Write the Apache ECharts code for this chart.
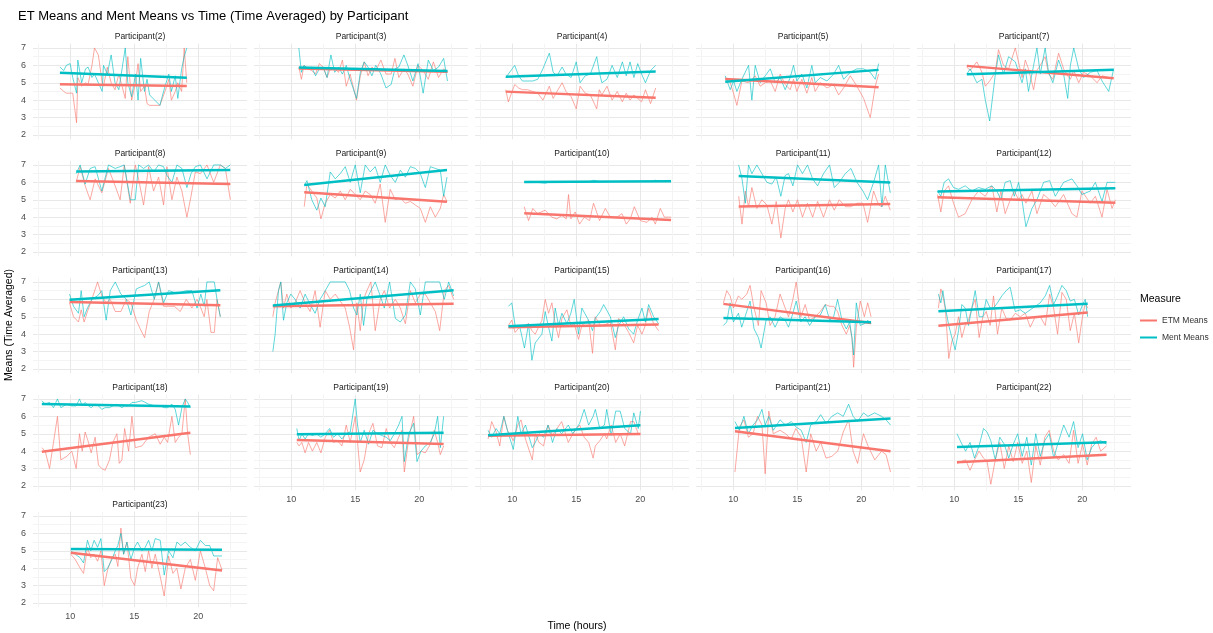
<!DOCTYPE html>
<html><head><meta charset="utf-8">
<script src="https://cdn.jsdelivr.net/npm/echarts@6/dist/echarts.min.js"></script>
<style>html,body{margin:0;padding:0;background:#fff}#chart{width:1213px;height:633px}</style>
</head><body><div id="chart"></div>
<script>
// ---------- DATA ----------
const participants = [2,3,4,5,7,8,9,10,11,12,13,14,15,16,17,18,19,20,21,22,23];
const xTickLabels = [10,15,20];
const yTickLabels = [2,3,4,5,6,7];

const p2Time = [9.2,9.5,9.7,10.0,10.2,10.5,10.6,10.9,11.2,11.4,11.7,11.9,12.2,12.5,12.6,12.9,13.2,13.5,13.8,14.3,14.5,14.8,15.1,15.3,15.5,15.8,16.0,16.2,16.6,17.0,17.4,17.7,17.9,18.2,18.4,18.7,18.9,19.1];
const p2Etm  = [4.7,4.5,4.4,4.4,4.4,2.7,5.3,4.8,5.0,4.9,6.0,7.0,6.6,5.0,4.8,5.9,5.0,4.6,5.5,4.1,6.5,4.0,5.0,6.1,4.5,4.8,3.8,3.7,3.7,3.7,4.5,5.2,4.0,4.5,5.0,4.5,7.0,5.0];
const p2Ment = [5.9,5.7,6.0,6.1,5.3,4.4,6.3,5.0,5.8,5.9,5.3,5.5,5.0,4.5,6.0,5.5,6.6,5.0,4.6,7.0,5.0,4.2,5.5,4.0,6.4,4.5,5.2,4.3,4.0,3.7,4.8,5.5,4.5,5.4,4.1,5.8,6.5,7.0];

const p3Time = [10.6,10.8,11.0,11.3,11.6,11.9,12.2,12.5,12.8,13.1,13.4,13.7,14.0,14.3,14.6,15.1,15.4,15.7,16.0,16.3,16.6,17.0,17.4,17.8,18.1,18.4,18.8,19.1,19.5,19.9,20.3,20.7,21.1,21.5,21.9,22.2];
const p3Etm  = [5.9,5.2,6.0,5.8,5.7,5.5,6.1,5.9,5.3,5.9,5.8,5.6,6.3,4.8,5.5,4.0,5.4,6.2,5.4,5.9,5.7,6.3,5.5,5.5,6.4,5.3,5.8,5.5,4.8,6.0,5.7,5.2,6.2,5.3,5.8,5.6];
const p3Ment = [7.0,5.6,6.0,5.8,5.9,5.4,5.8,5.9,5.3,6.6,5.6,5.9,5.5,6.0,5.2,4.1,5.6,6.2,5.9,5.4,6.0,5.5,4.7,4.9,5.8,5.9,6.6,6.0,5.1,6.1,4.4,6.3,5.7,5.9,6.4,5.1];

const p4Time = [9.5,9.7,10.0,10.2,10.5,10.8,11.2,11.6,12.0,12.4,12.9,13.2,13.5,13.9,14.2,14.6,15.0,15.3,15.7,16.1,16.6,16.8,17.0,17.4,17.8,18.2,18.6,18.9,19.2,19.5,19.8,20.1,20.4,20.8,21.2];
const p4Etm  = [4.6,3.9,4.5,4.9,4.7,4.6,4.6,4.5,4.4,4.0,4.8,4.1,4.5,5.0,4.5,4.2,3.5,4.8,4.4,4.3,3.5,4.6,4.3,4.8,4.0,4.5,3.9,4.4,4.0,4.3,4.1,3.9,4.6,3.8,4.7];
const p4Ment = [5.3,5.5,5.8,6.0,5.4,5.1,5.1,5.1,5.2,5.8,6.7,5.6,5.4,5.9,5.5,5.3,6.2,5.0,5.4,5.5,6.5,5.6,5.0,5.2,6.0,5.3,6.2,5.4,6.2,5.3,6.1,5.5,5.0,5.7,6.0];

const p5Time = [9.38,9.77,10.03,10.29,10.68,11.2,11.46,11.72,12.11,12.5,12.9,13.28,13.67,14.06,14.45,14.71,14.97,15.36,15.75,16.14,16.4,16.8,17.32,17.84,18.23,18.62,19.14,19.66,20.18,20.7,21.09,21.35];
const p5Etm  = [5.3,5.0,4.4,3.7,5.1,5.0,5.2,5.4,4.8,5.0,5.1,4.5,5.5,4.9,4.6,5.2,4.5,5.2,4.4,5.3,4.5,5.0,4.7,4.9,4.3,4.7,5.4,4.8,4.1,3.0,4.8,5.5];
const p5Ment = [5.4,4.6,5.1,4.5,5.2,6.0,4.0,6.0,5.0,5.4,5.8,5.0,5.3,4.6,5.3,6.0,5.1,5.5,4.7,6.0,5.0,5.3,5.1,5.5,6.0,5.2,5.6,5.8,5.8,5.6,5.2,6.1];

const p7Time = [10.99,11.25,11.77,12.17,12.43,12.77,13.2,13.46,13.85,14.25,14.77,15.3,15.55,15.8,16.2,16.46,16.72,17.1,17.37,17.7,18.15,18.54,18.86,19.07,19.33,19.72,20.1,20.63,21.15,21.54,22.06,22.45];
const p7Etm  = [5.9,5.7,6.2,5.6,4.8,5.1,5.6,6.9,6.0,5.8,7.0,5.3,6.3,5.8,4.6,5.7,6.0,6.5,5.5,5.2,6.7,5.8,5.4,5.2,5.7,5.0,5.6,5.4,5.0,5.4,5.3,5.3];
const p7Ment = [5.5,5.8,5.0,5.2,4.0,2.8,5.4,6.6,5.5,6.5,6.2,5.0,5.8,4.5,6.0,7.0,5.5,7.0,5.6,5.0,6.3,5.5,4.1,6.0,7.0,5.8,5.3,5.6,5.7,5.1,4.5,5.8];

const p8Time = [10.47,10.78,11.17,11.56,11.95,12.47,12.99,13.51,13.9,14.22,14.69,15.08,15.34,15.73,16.12,16.51,16.9,17.29,17.55,17.94,18.33,18.72,19.11,19.43,19.77,20.16,20.68,21.2,21.72,22.11,22.5];
const p8Etm  = [6.0,6.9,5.8,5.0,6.2,5.4,6.8,5.8,5.0,7.0,4.8,7.0,6.2,4.7,6.9,5.5,6.3,4.7,6.9,5.0,6.3,5.5,4.0,5.2,6.6,6.5,7.0,6.0,7.0,6.8,5.0];
const p8Ment = [6.5,7.0,5.9,6.8,6.9,5.5,7.0,6.8,6.9,7.0,5.0,5.0,7.0,6.8,7.0,6.6,7.0,6.9,6.4,6.0,7.0,6.8,5.7,6.5,6.9,7.0,6.2,7.0,7.0,6.8,7.0];

const p9Time = [11.02,11.23,11.61,12.0,12.32,12.66,13.05,13.44,13.83,14.22,14.61,15.0,15.39,15.78,16.17,16.56,16.95,17.34,17.73,18.13,18.52,18.91,19.3,19.69,20.08,20.47,20.86,21.25,21.64,21.9,22.16];
const p9Etm  = [4.6,5.9,5.5,5.1,3.9,4.8,5.3,5.1,5.5,5.0,5.6,5.3,5.0,5.5,5.3,4.8,5.9,3.7,5.6,5.0,5.1,4.8,4.9,4.7,4.5,3.7,4.6,4.0,4.5,5.3,4.9];
const p9Ment = [5.8,6.1,5.0,4.4,5.1,4.6,6.6,6.2,6.5,6.9,6.0,7.0,5.4,7.0,6.6,6.9,6.0,7.0,6.4,6.0,6.7,6.3,6.9,6.8,6.5,5.7,6.9,6.8,6.7,5.2,6.3];

const p10Time = [10.94,11.28,11.61,11.98,12.57,13.09,13.49,13.88,14.22,14.4,14.58,14.92,15.26,15.63,16.04,16.35,16.82,17.27,17.66,18.18,18.57,18.91,19.22,19.53,20.0,20.52,20.91,21.17,21.56,21.88,22.4];
const p10Etm  = [4.6,3.8,4.5,4.2,4.4,4.0,3.9,4.1,3.9,5.3,3.9,4.3,3.6,4.0,3.8,4.8,3.8,4.5,4.0,4.0,4.2,3.6,3.9,4.6,3.8,3.7,4.0,3.6,4.5,4.0,4.0];
const p10Ment = [6.05,6.05,6.05,6.0,5.95,6.05,6.05,6.05,6.05,6.05,6.05,6.05,6.05,6.05,6.05,6.12,6.05,6.05,6.05,6.05,6.05,6.05,6.05,6.05,6.05,6.05,6.05,6.12,6.05,6.05,6.05];

const p11Time = [10.43,10.69,10.95,11.2,11.46,11.85,12.24,12.63,13.02,13.36,13.72,14.06,14.32,14.66,15.02,15.41,15.8,16.2,16.59,17.05,17.52,17.89,18.28,18.75,19.19,19.66,20.13,20.49,20.96,21.35,21.61,21.87,22.26];
const p11Etm  = [5.2,3.6,5.5,4.6,5.7,4.5,5.0,4.7,3.6,4.9,2.8,4.5,5.0,4.3,5.0,4.0,4.8,4.0,4.9,4.0,5.0,4.4,5.0,4.6,4.6,4.8,4.8,3.7,5.5,4.7,4.6,5.2,4.4];
const p11Ment = [7.0,6.2,4.8,7.0,6.5,7.0,6.5,6.0,5.9,6.3,5.2,6.4,6.5,5.8,7.0,6.5,7.0,6.2,5.8,6.5,7.0,5.7,6.0,6.5,6.8,6.0,5.5,5.0,6.0,7.0,4.6,7.0,5.4];

const p12Time = [8.7,8.96,9.22,9.56,9.95,10.34,10.86,11.38,11.9,12.42,12.94,13.33,13.65,13.98,14.38,14.69,15.03,15.29,15.6,16.07,16.46,16.98,17.45,17.89,18.54,19.19,19.58,19.97,20.62,21.02,21.54,21.93,22.32,22.58];
const p12Etm  = [5.3,4.3,5.5,5.8,4.8,4.0,4.2,5.0,5.5,5.2,5.8,4.3,5.5,4.2,5.0,5.5,5.0,5.3,4.8,5.5,4.2,5.3,5.0,4.6,5.3,4.2,4.0,5.5,4.8,5.2,4.0,5.6,4.5,5.0];
const p12Ment = [5.5,5.2,6.0,6.2,5.7,5.6,5.8,5.5,5.7,5.6,5.8,5.5,5.0,6.0,6.1,5.2,6.0,5.0,3.45,4.5,5.0,6.0,6.1,5.2,6.0,6.2,5.8,5.3,5.5,6.0,4.9,6.0,6.0,6.0];

const p13Time = [9.95,10.26,10.65,10.86,11.09,11.35,11.69,12.14,12.47,12.81,13.13,13.52,13.96,14.38,14.74,15.16,15.47,15.81,16.17,16.56,16.9,17.29,17.68,18.13,18.59,19.06,19.5,19.9,20.2,20.46,20.67,20.99,21.25,21.46,21.72];
const p13Etm  = [5.8,5.0,4.7,5.4,4.7,5.3,6.0,7.0,6.2,5.8,6.0,5.3,5.3,6.0,5.8,4.8,4.3,3.8,5.3,6.0,7.0,5.6,5.6,5.6,5.3,6.0,5.5,6.0,5.5,5.0,6.0,4.1,4.1,6.0,5.0];
const p13Ment = [6.3,5.6,5.2,6.5,5.0,5.5,6.0,6.2,6.5,4.8,6.5,7.0,6.3,6.0,5.1,6.6,6.7,6.8,7.0,6.0,7.0,5.8,6.5,6.4,6.4,6.5,6.5,5.5,6.3,5.6,7.0,7.0,7.0,6.0,5.0];

const p14Time = [8.57,8.75,9.01,9.19,9.4,9.66,9.97,10.31,10.7,11.09,11.48,11.87,12.26,12.66,13.05,13.44,13.83,14.22,14.56,14.87,15.13,15.39,15.65,15.91,16.22,16.56,16.95,17.27,17.68,18.13,18.52,18.91,19.3,19.69,20.08,20.47,20.86,21.25,21.59,21.95,22.29,22.68];
const p14Etm  = [5.0,5.8,6.5,7.0,5.5,6.3,5.5,5.8,6.5,5.8,5.3,6.5,4.4,6.5,6.0,6.3,5.9,5.5,4.4,3.1,5.8,4.2,6.0,6.5,7.0,4.2,6.0,6.5,5.5,6.0,5.5,4.6,6.5,5.8,6.3,6.3,5.8,5.3,4.2,6.5,6.8,6.0];
const p14Ment = [3.0,4.0,6.5,7.0,4.8,5.8,6.3,6.0,5.5,6.3,5.7,5.2,6.0,6.5,7.0,7.0,7.0,7.0,6.5,5.5,5.1,6.3,4.5,6.0,6.5,7.0,6.2,5.5,7.0,4.9,4.7,5.1,7.0,6.6,5.1,7.0,7.0,7.0,7.0,6.0,7.0,6.2];

const p15Time = [9.71,9.97,10.23,10.57,10.96,11.28,11.54,11.8,12.32,12.58,12.84,13.1,13.36,13.62,13.88,14.27,14.58,14.84,15.18,15.44,15.96,16.27,16.48,16.88,17.14,17.66,18.05,18.31,18.7,19.09,19.48,19.79,20.13,20.39,20.65,21.04,21.43];
const p15Etm  = [4.5,4.8,4.1,4.4,4.5,4.6,4.2,4.0,4.8,6.0,5.2,5.8,4.6,3.8,4.9,5.4,4.5,4.6,3.7,4.5,4.8,2.9,5.0,4.5,4.5,4.7,3.1,4.9,4.6,4.1,3.5,4.5,4.0,4.5,5.5,4.6,4.2];
const p15Ment = [5.6,5.8,4.5,4.5,3.2,4.6,2.5,3.5,4.0,5.3,4.4,3.6,5.5,4.5,5.2,4.6,5.2,6.0,4.0,5.5,4.8,4.2,4.9,5.3,5.7,5.0,3.8,4.5,5.0,4.3,4.0,4.8,5.5,4.7,5.7,5.0,4.6];

const p16Time = [9.24,9.5,9.76,10.02,10.41,10.67,11.06,11.32,11.63,11.97,12.18,12.57,12.88,13.27,13.66,14.06,14.32,14.66,14.92,15.28,15.62,15.96,16.41,16.8,17.19,17.53,17.84,18.15,18.49,18.83,19.09,19.27,19.4,19.61,19.92,20.24,20.5,20.76];
const p16Etm  = [5.8,6.5,6.2,5.5,6.2,6.0,6.3,6.8,5.5,4.5,6.5,5.8,4.5,5.0,6.3,5.5,5.0,6.0,7.0,5.0,5.7,4.8,5.0,5.3,5.7,5.6,5.6,5.3,4.5,4.0,4.5,3.8,2.1,4.4,5.9,5.0,5.8,5.0];
const p16Ment = [4.5,4.7,5.8,4.7,5.2,4.4,5.3,5.9,4.3,3.8,3.2,4.8,5.0,4.4,5.0,4.8,4.4,5.2,5.9,4.7,5.0,4.5,5.0,5.1,5.7,4.8,5.0,6.0,4.8,4.3,4.7,3.8,2.8,5.8,4.5,4.6,4.8,4.6];

const p17Time = [8.77,8.96,9.12,9.32,9.58,9.82,10.08,10.34,10.6,10.86,11.12,11.38,11.64,11.95,12.24,12.5,12.81,13.07,13.38,13.72,14.06,14.37,14.77,15.16,15.55,15.94,16.33,16.72,17.11,17.45,17.76,18.07,18.41,18.75,19.06,19.38,19.72,19.97,20.23,20.42];
const p17Etm  = [5.5,6.6,6.2,5.4,2.6,3.6,4.0,5.0,3.8,4.5,4.8,5.5,6.0,3.8,5.0,5.3,4.5,6.2,4.0,5.5,4.9,4.8,5.2,5.0,5.2,4.4,5.0,5.0,4.5,6.3,5.5,4.0,6.4,6.0,4.2,5.2,3.5,4.8,5.8,5.5];
const p17Ment = [6.3,5.8,6.5,5.5,4.5,3.8,3.1,4.2,5.7,5.5,4.5,5.5,6.5,5.0,5.0,6.0,5.5,5.5,5.8,6.2,6.5,6.7,5.3,5.4,5.2,5.4,5.6,5.8,6.2,6.8,5.7,6.2,6.8,6.5,5.9,6.0,5.1,5.6,6.0,5.0];

const p18Time = [7.79,8.05,8.39,8.7,9.01,9.27,9.74,10.13,10.47,10.73,10.94,11.17,11.43,11.64,11.95,12.21,12.47,12.73,13.07,13.33,13.65,13.83,14.04,14.25,14.56,14.82,15.08,15.6,16.12,16.64,17.03,17.34,17.6,17.94,18.2,18.46,18.72,18.98,19.17,19.38];
const p18Etm  = [4.2,4.0,3.0,4.5,6.0,3.5,3.7,4.0,3.0,5.0,4.0,5.1,4.5,3.9,4.8,3.2,3.0,2.9,3.5,4.5,5.0,3.3,3.5,5.3,4.0,6.0,4.2,4.3,4.8,5.0,4.4,4.8,4.5,6.0,4.5,4.8,5.0,7.0,5.0,3.8];
const p18Ment = [6.9,6.7,6.8,6.5,7.0,6.5,6.7,6.6,6.6,7.0,6.6,6.8,6.6,6.5,6.7,6.6,6.4,6.5,6.5,6.6,6.7,6.6,6.5,6.6,6.6,6.8,6.8,6.9,6.7,6.6,6.6,6.5,6.5,6.7,6.4,5.5,6.5,7.0,6.8,6.5];

const p19Time = [10.44,10.62,10.83,11.09,11.35,11.66,12.0,12.32,12.66,13.0,13.31,13.62,13.96,14.3,14.61,15.0,15.18,15.39,15.7,16.04,16.38,16.74,17.08,17.42,17.73,18.05,18.39,18.65,18.83,19.17,19.56,19.82,20.13,20.47,20.86,21.17,21.43,21.64,21.9];
const p19Etm  = [4.5,4.3,4.5,3.9,4.5,4.0,4.5,3.9,4.8,5.2,4.5,4.6,4.3,5.5,4.5,6.0,4.5,2.8,3.5,5.0,5.6,4.3,4.2,5.3,4.5,4.2,4.8,5.2,2.8,4.7,6.0,3.8,4.0,3.9,4.4,5.2,4.5,3.8,4.3];
const p19Ment = [5.3,4.6,5.0,4.7,5.0,4.9,5.0,4.8,5.0,5.3,4.8,5.0,4.7,5.0,5.1,7.0,5.5,4.5,5.2,4.4,5.2,5.0,4.9,4.8,4.6,5.0,5.5,6.0,3.4,5.0,5.6,3.4,4.0,4.3,4.5,5.0,6.0,4.2,6.0];

const p20Time = [8.12,8.4,8.75,9.03,9.35,9.63,10.09,10.44,10.69,11.04,11.57,11.81,12.1,12.45,12.8,13.15,13.5,13.86,14.38,14.73,15.27,15.62,15.97,16.32,16.49,16.84,17.2,17.38,17.73,18.08,18.43,18.78,19.24,19.49,19.84,20.01];
const p20Etm  = [4.7,5.7,5.1,4.3,6.0,5.2,4.6,5.5,5.8,4.7,3.5,5.0,4.5,4.3,5.5,4.9,5.3,5.7,4.5,5.0,5.5,4.8,4.5,3.6,4.3,4.6,5.0,4.7,5.5,4.5,5.0,4.3,5.7,5.7,5.0,5.0];
const p20Ment = [5.2,4.8,5.3,5.0,6.0,5.2,4.1,6.0,5.0,5.5,4.2,4.5,5.0,4.8,5.5,4.5,5.3,5.0,5.5,5.0,5.6,6.4,5.5,6.0,6.4,5.3,5.5,6.4,4.9,6.3,6.3,5.3,5.0,6.2,5.3,6.3];

const p21Time = [10.14,10.49,10.84,11.19,11.55,11.9,12.25,12.5,12.78,13.13,13.66,14.08,14.54,14.89,15.31,15.7,16.05,16.48,16.83,17.25,17.7,18.16,18.59,19.01,19.36,19.71,20.17,20.52,21.05,21.58,21.93,22.28];
const p21Etm  = [2.8,5.4,5.8,4.8,5.0,6.0,5.5,2.7,6.3,5.0,5.2,5.0,4.7,5.3,4.8,2.8,5.0,4.0,4.5,3.6,3.7,4.0,5.1,5.8,4.0,3.3,5.0,4.3,3.5,4.0,3.8,2.8];
const p21Ment = [5.7,5.2,6.0,5.0,5.5,5.8,6.4,5.5,6.0,5.2,5.8,5.5,5.7,5.4,5.2,4.5,5.5,5.7,6.1,5.6,6.0,6.2,6.0,6.7,6.0,5.7,6.2,6.0,6.2,6.0,5.8,5.5];

const p22Time = [10.22,10.54,10.89,11.24,11.59,11.94,12.29,12.57,12.86,13.21,13.56,13.91,14.26,14.61,14.96,15.31,15.67,16.02,16.37,16.72,17.07,17.42,17.77,18.12,18.55,18.97,19.32,19.67,20.02,20.38,20.73,21.08,21.43,21.89];
const p22Etm  = [3.3,3.4,3.5,2.9,3.5,4.0,3.6,3.4,2.1,3.5,4.5,3.0,4.3,3.4,4.5,3.3,4.0,2.2,4.3,3.2,4.8,5.2,4.0,3.5,3.8,3.3,5.2,3.3,4.4,3.2,4.4,4.8,4.0,4.3];
const p22Ment = [5.0,4.5,4.0,4.5,3.6,4.3,5.3,5.1,4.6,3.5,4.8,4.4,3.6,4.4,5.0,3.7,4.8,3.2,5.0,3.7,4.6,5.0,3.6,4.5,5.5,4.8,5.7,4.2,5.0,3.5,4.2,4.5,4.6,4.4];

const p23Time = [10.05,10.39,10.78,11.04,11.35,11.61,11.87,12.14,12.4,12.66,12.92,13.26,13.52,13.72,13.96,14.17,14.43,14.74,15.03,15.26,15.6,15.86,16.12,16.38,16.64,17.03,17.34,17.68,18.02,18.33,18.64,18.98,19.38,19.77,20.16,20.55,20.89,21.2,21.51,21.85];
const p23Etm  = [4.8,4.5,4.0,3.7,5.2,4.6,4.8,4.4,5.0,3.0,3.9,4.6,4.8,4.1,6.3,4.8,5.5,3.4,3.0,4.0,4.8,3.8,5.0,4.0,4.8,3.5,2.4,4.7,3.7,4.0,2.8,4.0,4.5,3.3,5.0,4.0,3.0,2.7,4.6,3.9];
const p23Ment = [5.0,4.8,4.6,4.3,5.6,5.0,5.6,5.2,5.7,3.8,4.0,4.5,5.0,5.3,6.0,4.8,5.5,4.5,5.2,5.5,5.0,5.2,5.6,5.0,5.7,5.6,3.6,5.0,4.6,5.5,5.3,5.5,5.2,5.0,5.6,5.3,5.3,4.7,4.7,4.7];

// Linear-fit lines (value at first and last time of each participant)
const etmTrendStart  = [4.91,5.82,4.49,5.22,5.97,6.08,5.43,4.22,4.61,5.14,5.85,5.60,4.40,5.74,4.48,3.97,4.64,4.89,5.14,3.36,4.89];
const etmTrendEnd    = [4.82,5.63,4.14,4.74,5.26,5.91,4.89,3.84,4.75,4.83,5.66,5.75,4.55,4.64,5.25,5.06,4.41,4.99,3.99,3.80,3.86];
const mentTrendStart = [5.58,5.88,5.35,5.06,5.49,6.62,5.85,6.02,6.37,5.47,5.98,5.64,4.45,4.93,5.31,6.71,4.97,4.91,5.33,4.24,5.10];
const mentTrendEnd   = [5.29,5.67,5.64,5.74,5.74,6.71,6.71,6.06,5.99,5.66,6.52,6.52,4.87,4.68,5.75,6.56,5.06,5.49,5.87,4.51,5.06];

// ---------- BUILD ----------
const panelTimes = [p2Time,p3Time,p4Time,p5Time,p7Time,p8Time,p9Time,p10Time,p11Time,p12Time,p13Time,p14Time,p15Time,p16Time,p17Time,p18Time,p19Time,p20Time,p21Time,p22Time,p23Time];
const panelEtm   = [p2Etm,p3Etm,p4Etm,p5Etm,p7Etm,p8Etm,p9Etm,p10Etm,p11Etm,p12Etm,p13Etm,p14Etm,p15Etm,p16Etm,p17Etm,p18Etm,p19Etm,p20Etm,p21Etm,p22Etm,p23Etm];
const panelMent  = [p2Ment,p3Ment,p4Ment,p5Ment,p7Ment,p8Ment,p9Ment,p10Ment,p11Ment,p12Ment,p13Ment,p14Ment,p15Ment,p16Ment,p17Ment,p18Ment,p19Ment,p20Ment,p21Ment,p22Ment,p23Ment];

const FONT = '"Liberation Sans", Arial, sans-serif';
const ETM_COLOR = '#F8766D', MENT_COLOR = '#00BFC4';
const NCOL = 5, COL_STEP = 221, ROW_STEP = 117;
const PANEL_LEFT = 33, PANEL_TOP = 43.6, PANEL_W = 214, PANEL_H = 95.7;

const grids = [], xAxes = [], yAxes = [], series = [], graphics = [];

participants.forEach((p, i) => {
  const col = i % NCOL, row = Math.floor(i / NCOL);
  const left = PANEL_LEFT + COL_STEP * col;
  const top = PANEL_TOP + ROW_STEP * row;
  grids.push({ left: left, top: top, width: PANEL_W, height: PANEL_H, containLabel: false });
  const showX = (i + NCOL) >= participants.length;
  const showY = col === 0;
  xAxes.push({
    gridIndex: i, type: 'value', min: 7.1, max: 23.8,
    axisLine: { show: false },
    axisTick: { show: false, customValues: [7.5,10,12.5,15,17.5,20,22.5] },
    axisLabel: { show: showX, customValues: xTickLabels, fontSize: 9, color: '#4d4d4d', margin: 5, fontFamily: FONT },
    splitLine: { show: true, lineStyle: { color: ['#f4f4f4', '#e8e8e8'], width: 1 } }
  });
  yAxes.push({
    gridIndex: i, type: 'value', min: 1.75, max: 7.25,
    axisLine: { show: false },
    axisTick: { show: false, customValues: [2,2.5,3,3.5,4,4.5,5,5.5,6,6.5,7] },
    axisLabel: { show: showY, customValues: yTickLabels, fontSize: 9, color: '#4d4d4d', margin: 7, fontFamily: FONT },
    splitLine: { show: true, lineStyle: { color: ['#e8e8e8', '#f4f4f4'], width: 1 } }
  });
  const t = panelTimes[i];
  series.push({
    type: 'line', name: 'ETM Means', xAxisIndex: i, yAxisIndex: i,
    data: t.map((x, k) => [x, panelEtm[i][k]]),
    symbol: 'none', showSymbol: false, silent: true, z: 2,
    lineStyle: { color: ETM_COLOR, width: 0.9, opacity: 0.7 }, itemStyle: { color: ETM_COLOR }
  });
  series.push({
    type: 'line', name: 'Ment Means', xAxisIndex: i, yAxisIndex: i,
    data: t.map((x, k) => [x, panelMent[i][k]]),
    symbol: 'none', showSymbol: false, silent: true, z: 2,
    lineStyle: { color: MENT_COLOR, width: 0.9, opacity: 0.7 }, itemStyle: { color: MENT_COLOR }
  });
  const t0 = t[0], t1 = t[t.length - 1];
  series.push({
    type: 'line', name: 'ETM fit', xAxisIndex: i, yAxisIndex: i,
    data: [[t0, etmTrendStart[i]], [t1, etmTrendEnd[i]]],
    symbol: 'none', showSymbol: false, silent: true, z: 3,
    lineStyle: { color: ETM_COLOR, width: 2.5 }
  });
  series.push({
    type: 'line', name: 'Ment fit', xAxisIndex: i, yAxisIndex: i,
    data: [[t0, mentTrendStart[i]], [t1, mentTrendEnd[i]]],
    symbol: 'none', showSymbol: false, silent: true, z: 3,
    lineStyle: { color: MENT_COLOR, width: 2.5 }
  });
  graphics.push({
    type: 'text', x: left + PANEL_W / 2, y: top - 6.5,
    style: { text: 'Participant(' + p + ')', fill: '#1a1a1a', font: '8.5px ' + FONT,
             align: 'center', verticalAlign: 'middle', textAlign: 'center', textVerticalAlign: 'middle' }
  });
});

graphics.push({
  type: 'text', x: 18, y: 16,
  style: { text: 'ET Means and Ment Means vs Time (Time Averaged) by Participant', fill: '#000', font: '13px ' + FONT,
           align: 'left', verticalAlign: 'middle', textAlign: 'left', textVerticalAlign: 'middle' }
});
graphics.push({
  type: 'text', x: 577, y: 626,
  style: { text: 'Time (hours)', fill: '#000', font: '10.5px ' + FONT,
           align: 'center', verticalAlign: 'middle', textAlign: 'center', textVerticalAlign: 'middle' }
});
graphics.push({
  type: 'text', x: 9, y: 325, rotation: Math.PI / 2,
  style: { text: 'Means (Time Averaged)', fill: '#000', font: '10.5px ' + FONT,
           align: 'center', verticalAlign: 'middle', textAlign: 'center', textVerticalAlign: 'middle' }
});
graphics.push({
  type: 'text', x: 1140, y: 299,
  style: { text: 'Measure', fill: '#000', font: '10.5px ' + FONT,
           align: 'left', verticalAlign: 'middle', textAlign: 'left', textVerticalAlign: 'middle' }
});

const chart = echarts.init(document.getElementById('chart'), null, { renderer: 'canvas' });
chart.setOption({
  animation: false,
  backgroundColor: '#ffffff',
  grid: grids, xAxis: xAxes, yAxis: yAxes, series: series,
  legend: {
    orient: 'vertical', left: 1140, top: 316, padding: 0, itemWidth: 17, itemHeight: 2, itemGap: 8,
    icon: 'rect', selectedMode: false,
    data: [{ name: 'ETM Means', itemStyle: { color: ETM_COLOR } }, { name: 'Ment Means', itemStyle: { color: MENT_COLOR } }],
    textStyle: { fontSize: 8.5, color: '#333', fontFamily: FONT, padding: [0, 0, 0, 0] }
  },
  graphic: graphics
});
</script>
</body></html>
